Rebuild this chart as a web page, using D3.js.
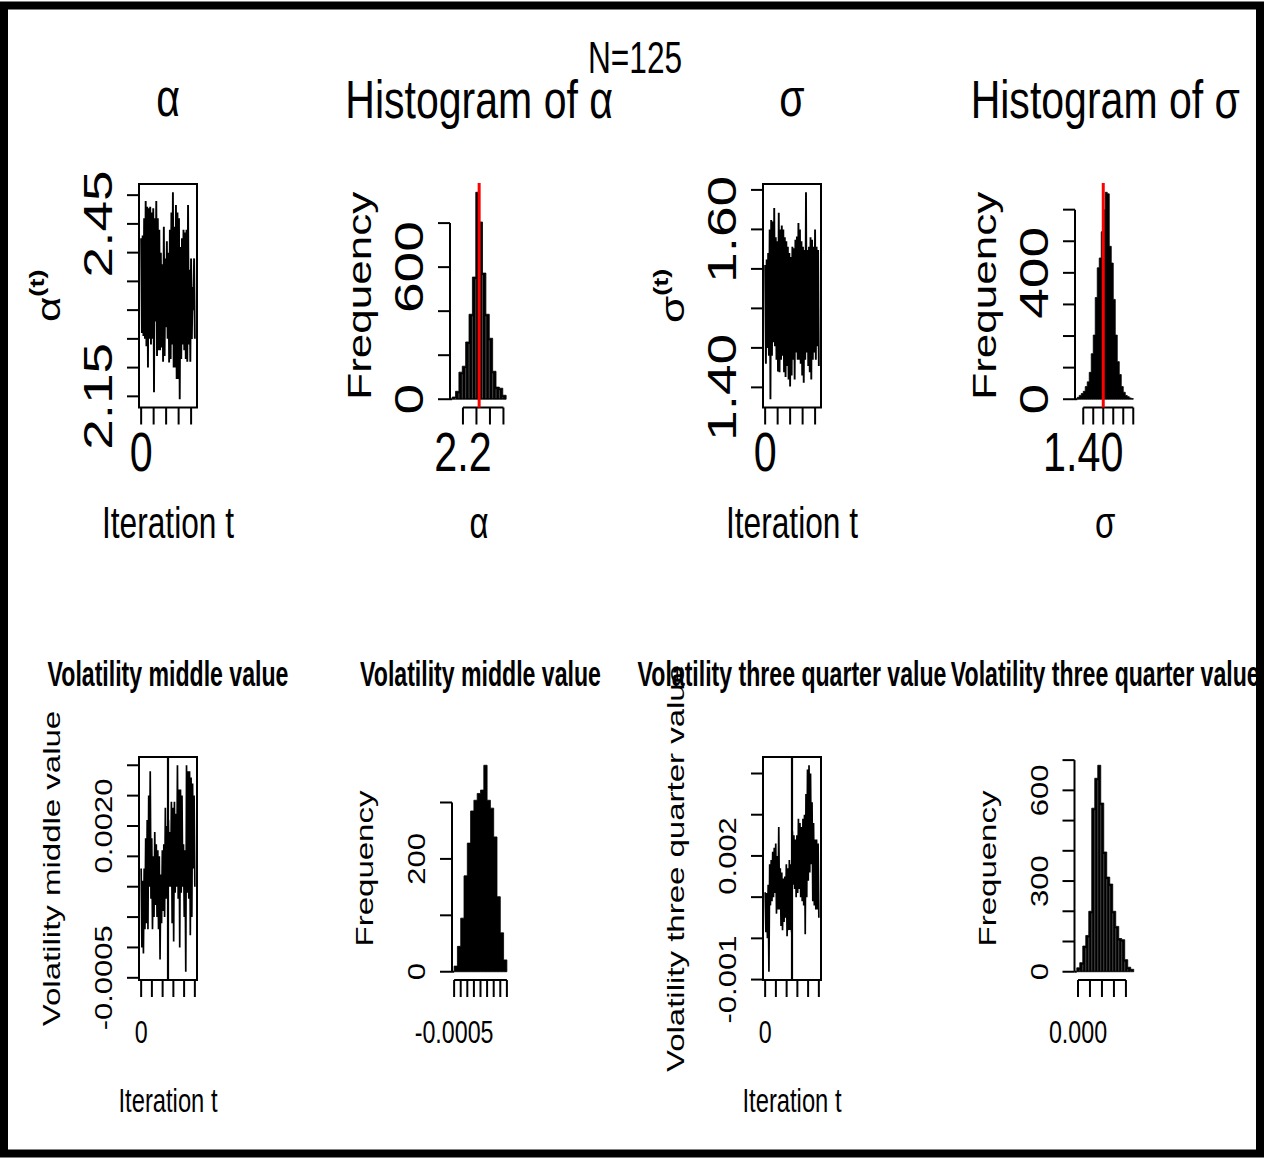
<!DOCTYPE html>
<html lang="en">
<head>
<meta charset="UTF-8">
<title>MCMC traces and histograms</title>
<script src="https://d3js.org/d3.v7.min.js"></script>
<style>
  body { margin: 0; background: #fff; }
  svg text { font-family: "Liberation Sans", Arial, sans-serif; fill: #000; }
</style>
</head>
<body>
<div id="chart"></div>
<script>
// ---- values ----
const sampleLabel = "N=125";

// trace plots: upper / lower envelope of each column of the chain
const alphaHi = [2.425, 2.43, 2.46, 2.49, 2.48, 2.477, 2.48, 2.47, 2.477, 2.46, 2.49, 2.46, 2.44, 2.40, 2.38, 2.445, 2.39, 2.42,
                 2.40, 2.44, 2.47, 2.505, 2.445, 2.483, 2.47, 2.46, 2.41, 2.425, 2.44, 2.435, 2.44, 2.483, 2.37, 2.39, 2.34, 2.39];
const alphaLo = [2.26, 2.255, 2.25, 2.237, 2.20, 2.25, 2.24, 2.25, 2.157, 2.28, 2.22, 2.23, 2.23, 2.235, 2.21, 2.22, 2.27, 2.25,
                 2.209, 2.215, 2.24, 2.20, 2.20, 2.18, 2.18, 2.145, 2.215, 2.24, 2.23, 2.215, 2.21, 2.24, 2.21, 2.25, 2.30, 2.25];

const sigmaHi = [1.555, 1.562, 1.57, 1.60, 1.612, 1.61, 1.627, 1.59, 1.585, 1.621, 1.60, 1.605, 1.60, 1.59, 1.585, 1.578, 1.57, 1.565,
                 1.578, 1.576, 1.587, 1.591, 1.608, 1.60, 1.585, 1.578, 1.574, 1.647, 1.574, 1.578, 1.59, 1.587, 1.578, 1.60, 1.578, 1.574];
const sigmaLo = [1.43, 1.45, 1.44, 1.385, 1.44, 1.457, 1.452, 1.435, 1.42, 1.419, 1.435, 1.44, 1.419, 1.413, 1.427, 1.41, 1.401, 1.415,
                 1.435, 1.41, 1.444, 1.435, 1.435, 1.43, 1.415, 1.406, 1.435, 1.444, 1.427, 1.419, 1.41, 1.435, 1.444, 1.435, 1.452, 1.427];

const midHi = [0.0013, 0.0011, 0.0013, 0.0018, 0.0021, 0.0025, 0.0029, 0.0018, 0.0015, 0.0019, 0.0017, 0.0016, 0.0015, 0.0012, 0.0016, 0.0017, 0.0023, 0.0020,
               0.0021, 0.0019, 0.0024, 0.0023, 0.0024, 0.0022, 0.0030, 0.0026, 0.0026, 0.0025, 0.0017, 0.0016, 0.0030, 0.0029, 0.0029, 0.0028, 0.0027, 0.0025];
const midLo = [0.0000, -0.0001, 0.0003, 0.0004, 0.0003, 0.0010, 0.0008, 0.0003, 0.0005, 0.0007, 0.0005, 0.0003, -0.0002, 0.0004, 0.0006, 0.0005, 0.0008, 0.0009,
               0.0010, 0.0010, 0.0004, 0.0001, 0.0009, 0.0010, 0.0008, 0.0000, 0.0009, 0.0010, 0.0005, -0.0004, 0.0009, 0.0008, 0.0002, 0.0005, 0.0013, 0.0010];

const tqHi = [0.00112, 0.0011, 0.0013, 0.0018, 0.0019, 0.0021, 0.0022, 0.0023, 0.0020, 0.0027, 0.0017, 0.0016, 0.00145, 0.0015, 0.0018, 0.0017, 0.0019, 0.0018,
              0.0026, 0.0025, 0.0024, 0.0025, 0.0029, 0.0028, 0.0027, 0.0029, 0.0030, 0.0035, 0.0041, 0.0042, 0.0040, 0.0033, 0.0028, 0.0024, 0.0024, 0.0023];
const tqLo = [0.00015, 0.0000, -0.00081, 0.0008, 0.0009, 0.0010, 0.0011, 0.0006, 0.0007, 0.0007, 0.0003, 0.0002, 0.0004, 0.0005, 0.00005, 0.0002, 0.0002, 0.00015,
              0.0013, 0.0012, 0.0010, 0.0011, 0.0012, 0.0010, 0.0009, 0.0008, 0.0001, 0.0010, 0.0014, 0.0016, 0.0018, 0.0009, 0.0008, 0.0007, 0.0007, 0.0005];

const topIterations = 4300;
const bottomIterations = 5000;
const burnIn = 2500;
const topIterTicks = [0, 1000, 2000, 3000, 4000];
const bottomIterTicks = [0, 1000, 2000, 3000, 4000, 5000];

// histograms: first bin edge, bin width, counts
const alphaBinStart = 2.12, alphaBinWidth = 0.025;
const alphaCounts = [10, 36, 123, 150, 260, 386, 555, 940, 805, 573, 386, 277, 127, 55, 50, 18];
const alphaMean = 2.32;

const sigmaBinStart = 1.37, sigmaBinWidth = 0.01;
const sigmaCounts = [6, 12, 18, 25, 40, 55, 85, 144, 203, 322, 416, 447, 530, 600, 655, 650, 484, 431, 316, 203, 119, 78, 40, 22, 12, 8, 4, 2];
const sigmaMean = 1.50;

const midBinStart = -0.0005, midBinWidth = 0.00025;
const midCounts = [10, 45, 95, 170, 228, 285, 304, 316, 322, 366, 304, 290, 239, 133, 69, 21];

const tqBinStart = -0.0001, tqBinWidth = 0.00025;
const tqCounts = [13, 30, 85, 120, 200, 541, 640, 683, 558, 396, 313, 290, 200, 150, 110, 106, 40, 15, 8];

// ticks and which of them carry a label
const alphaTraceTicks = [2.15, 2.20, 2.25, 2.30, 2.35, 2.40, 2.45, 2.50], alphaTraceLabelled = [2.15, 2.45];
const sigmaTraceTicks = [1.40, 1.45, 1.50, 1.55, 1.60, 1.65], sigmaTraceLabelled = [1.40, 1.60];
const midTraceTicks = [-0.0005, 0, 0.0005, 0.001, 0.0015, 0.002, 0.0025, 0.003], midTraceLabelled = [-0.0005, 0.002];
const tqTraceTicks = [-0.001, 0, 0.001, 0.002, 0.003, 0.004], tqTraceLabelled = [-0.001, 0.002];

const alphaHistX = [2.2, 2.3, 2.4, 2.5], alphaHistXLab = [2.2];
const alphaHistY = [0, 200, 400, 600, 800], alphaHistYLab = [0, 600];
const sigmaHistX = [1.40, 1.45, 1.50, 1.55, 1.60, 1.65], sigmaHistXLab = [1.40];
const sigmaHistY = [0, 100, 200, 300, 400, 500, 600], sigmaHistYLab = [0, 400];
const midHistX = [-0.0005, 0, 0.0005, 0.001, 0.0015, 0.002, 0.0025, 0.003, 0.0035], midHistXLab = [-0.0005];
const midHistY = [0, 100, 200, 300], midHistYLab = [0, 200];
const tqHistX = [0, 0.001, 0.002, 0.003, 0.004], tqHistXLab = [0];
const tqHistY = [0, 100, 200, 300, 400, 500, 600, 700], tqHistYLab = [0, 300, 600];

// ---- drawing ----
const fmt = d3.formatLocale({decimal: ".", thousands: ",", grouping: [3], currency: ["", ""], minus: "-"}).format;

const svg = d3.select("#chart").append("svg")
  .attr("width", 1264).attr("height", 1158);
svg.append("rect").attr("width", 1264).attr("height", 1158).attr("fill", "#fff");
svg.append("rect").attr("x", 4).attr("y", 5.5).attr("width", 1256).attr("height", 1148)
  .attr("fill", "none").attr("stroke", "#000").attr("stroke-width", 8);

function label(x, y, s, size, opt = {}) {
  const t = svg.append("text")
    .attr("transform", `translate(${x},${y}) scale(${opt.sx || 0.75},1)` + (opt.rot ? " rotate(-90)" : ""))
    .attr("text-anchor", "middle")
    .attr("font-size", size)
    .attr("font-weight", opt.bold ? "bold" : null);
  t.append("tspan").text(s);
  if (opt.sup) {
    t.append("tspan").attr("dy", -size * 0.5).attr("font-size", size * 0.62)
      .attr("font-weight", "bold").text(opt.sup);
  }
  return t;
}

const rows = {
  top: {y0: 184, y1: 407.5, tick: 55, lab: 44, title: 54, bold: false, tsx: 0.76, line: 1.9},
  bottom: {y0: 757, y1: 980, tick: 31, lab: 33, title: 35, bold: true, tsx: 0.66, line: 1.7}
};

function ticksY(y, x0, ticks, labelled, f, st) {
  ticks.forEach(t => {
    svg.append("line").attr("x1", x0).attr("x2", x0 - 12).attr("y1", y(t)).attr("y2", y(t))
      .attr("stroke", "#000").attr("stroke-width", 2);
  });
  labelled.forEach(t => label(x0 - 27, y(t), f(t), st.tick, {rot: true}));
}

function ticksX(x, yAxis, ticks, labelled, f, st) {
  ticks.forEach(t => {
    svg.append("line").attr("x1", x(t)).attr("x2", x(t)).attr("y1", yAxis).attr("y2", yAxis + 17)
      .attr("stroke", "#000").attr("stroke-width", 2);
  });
  labelled.forEach(t => label(x(t), yAxis + 63, f(t), st.tick));
}

function drawTrace(c) {
  const st = rows[c.row];
  const values = c.hi.flatMap((h, i) => [h, c.lo[i]]);
  const n = c.iterations;
  const x = d3.scaleLinear().domain([-0.04 * n, 1.04 * n]).range([c.x0, c.x1]);
  const [lo, hi] = d3.extent(values);
  const pad = 0.04 * (hi - lo);
  const y = d3.scaleLinear().domain([lo - pad, hi + pad]).range([st.y1, st.y0]);
  const step = n / (values.length - 1);

  svg.append("path").datum(values)
    .attr("d", d3.line().x((d, i) => x(i * step)).y(d => y(d)))
    .attr("fill", "none").attr("stroke", "#000").attr("stroke-width", st.line);
  if (c.vline != null) {
    svg.append("line").attr("x1", x(c.vline)).attr("x2", x(c.vline)).attr("y1", st.y0).attr("y2", st.y1)
      .attr("stroke", "#000").attr("stroke-width", 2.2);
  }
  svg.append("rect").attr("x", c.x0).attr("y", st.y0).attr("width", c.x1 - c.x0).attr("height", st.y1 - st.y0)
    .attr("fill", "none").attr("stroke", "#000").attr("stroke-width", 2);

  ticksY(y, c.x0, c.yTicks, c.yLabelled, c.yFmt, st);
  ticksX(x, st.y1, c.xTicks, [0], fmt("d"), st);

  const cx = (c.x0 + c.x1) / 2, cy = (st.y0 + st.y1) / 2;
  label(cx, c.titleY, c.title, st.title, {bold: st.bold, sx: st.tsx});
  label(cx, c.xlabY, "Iteration t", st.lab, {sx: 0.72});
  label(c.x0 - 79, cy, c.ylab, st.lab, {rot: true, sup: c.sup});
}

function drawHist(c) {
  const st = rows[c.row];
  const bins = c.counts.map((n, i) => ({x0: c.start + i * c.width, x1: c.start + (i + 1) * c.width, n}));
  const a = bins[0].x0, b = bins[bins.length - 1].x1;
  const x = d3.scaleLinear().domain([a - 0.04 * (b - a), b + 0.04 * (b - a)]).range([c.x0, c.x1]);
  const m = d3.max(c.counts);
  const y = d3.scaleLinear().domain([-0.04 * m, 1.04 * m]).range([st.y1, st.y0]);

  // bars as one stepped shape so neighbouring bins do not leave seams
  const steps = bins.concat([{x0: b, n: bins[bins.length - 1].n}]);
  svg.append("path").datum(steps)
    .attr("d", d3.area().curve(d3.curveStepAfter).x(d => x(d.x0)).y0(y(0)).y1(d => y(d.n)))
    .attr("fill", "#000").attr("stroke", "#000").attr("stroke-width", 0.8);
  if (c.gap) {
    svg.append("g").selectAll("line").data(bins.slice(1)).join("line")
      .attr("x1", d => x(d.x0)).attr("x2", d => x(d.x0))
      .attr("y1", y(0) - 1).attr("y2", (d, i) => y(Math.min(d.n, bins[i].n)) + 2)
      .attr("stroke", "#fff").attr("stroke-width", 0.5).attr("stroke-opacity", 0.55);
  }

  // y axis
  svg.append("line").attr("x1", c.x0).attr("x2", c.x0).attr("y1", y(c.yTicks[0])).attr("y2", y(c.yTicks[c.yTicks.length - 1]))
    .attr("stroke", "#000").attr("stroke-width", 2);
  svg.append("line").attr("x1", c.x0).attr("x2", x(a)).attr("y1", y(0)).attr("y2", y(0))
    .attr("stroke", "#000").attr("stroke-width", 2);
  ticksY(y, c.x0, c.yTicks, c.yLabelled, fmt("d"), st);
  // x axis
  svg.append("line").attr("x1", x(c.xTicks[0])).attr("x2", x(c.xTicks[c.xTicks.length - 1])).attr("y1", st.y1).attr("y2", st.y1)
    .attr("stroke", "#000").attr("stroke-width", 2);
  ticksX(x, st.y1, c.xTicks, c.xLabelled, c.xFmt, st);

  if (c.mean != null) {
    svg.append("line").attr("x1", x(c.mean)).attr("x2", x(c.mean)).attr("y1", st.y0 - 1).attr("y2", st.y1)
      .attr("stroke", "#ff0000").attr("stroke-width", 3);
  }

  const cx = (c.x0 + c.x1) / 2, cy = (st.y0 + st.y1) / 2;
  label(cx, c.titleY, c.title, st.title, {bold: st.bold, sx: st.tsx});
  if (c.xlab) label(cx, c.xlabY, c.xlab, st.lab);
  label(c.x0 - 79, cy, "Frequency", st.lab, {rot: true});
}

// top row
drawTrace({row: "top", x0: 139, x1: 197, hi: alphaHi, lo: alphaLo, iterations: topIterations, xTicks: topIterTicks,
  yTicks: alphaTraceTicks, yLabelled: alphaTraceLabelled, yFmt: fmt(".2f"),
  title: "α", titleY: 116, xlabY: 538, ylab: "α", sup: "(t)"});
drawHist({row: "top", x0: 450, x1: 508.3, start: alphaBinStart, width: alphaBinWidth, counts: alphaCounts, mean: alphaMean, gap: true,
  xTicks: alphaHistX, xLabelled: alphaHistXLab, xFmt: fmt(".1f"), yTicks: alphaHistY, yLabelled: alphaHistYLab,
  title: "Histogram of α", titleY: 118, xlab: "α", xlabY: 538});
drawTrace({row: "top", x0: 763, x1: 821, hi: sigmaHi, lo: sigmaLo, iterations: topIterations, xTicks: topIterTicks,
  yTicks: sigmaTraceTicks, yLabelled: sigmaTraceLabelled, yFmt: fmt(".2f"),
  title: "σ", titleY: 116, xlabY: 538, ylab: "σ", sup: "(t)"});
drawHist({row: "top", x0: 1075, x1: 1135.5, start: sigmaBinStart, width: sigmaBinWidth, counts: sigmaCounts, mean: sigmaMean,
  xTicks: sigmaHistX, xLabelled: sigmaHistXLab, xFmt: fmt(".2f"), yTicks: sigmaHistY, yLabelled: sigmaHistYLab,
  title: "Histogram of σ", titleY: 118, xlab: "σ", xlabY: 538});

label(635, 73, sampleLabel, 44, {sx: 0.72});

// bottom row
drawTrace({row: "bottom", x0: 139, x1: 197, hi: midHi, lo: midLo, iterations: bottomIterations, xTicks: bottomIterTicks, vline: burnIn,
  yTicks: midTraceTicks, yLabelled: midTraceLabelled, yFmt: fmt(".4f"),
  title: "Volatility middle value", titleY: 686, xlabY: 1112, ylab: "Volatility middle value"});
drawHist({row: "bottom", x0: 452, x1: 509, start: midBinStart, width: midBinWidth, counts: midCounts,
  xTicks: midHistX, xLabelled: midHistXLab, xFmt: fmt(".4f"), yTicks: midHistY, yLabelled: midHistYLab,
  title: "Volatility middle value", titleY: 686});
drawTrace({row: "bottom", x0: 763, x1: 821, hi: tqHi, lo: tqLo, iterations: bottomIterations, xTicks: bottomIterTicks, vline: burnIn,
  yTicks: tqTraceTicks, yLabelled: tqTraceLabelled, yFmt: fmt(".3f"),
  title: "Volatility three quarter value", titleY: 686, xlabY: 1112, ylab: "Volatility three quarter value"});
drawHist({row: "bottom", x0: 1074.5, x1: 1136, start: tqBinStart, width: tqBinWidth, counts: tqCounts, gap: true,
  xTicks: tqHistX, xLabelled: tqHistXLab, xFmt: fmt(".3f"), yTicks: tqHistY, yLabelled: tqHistYLab,
  title: "Volatility three quarter value", titleY: 686});
</script>
</body>
</html>
